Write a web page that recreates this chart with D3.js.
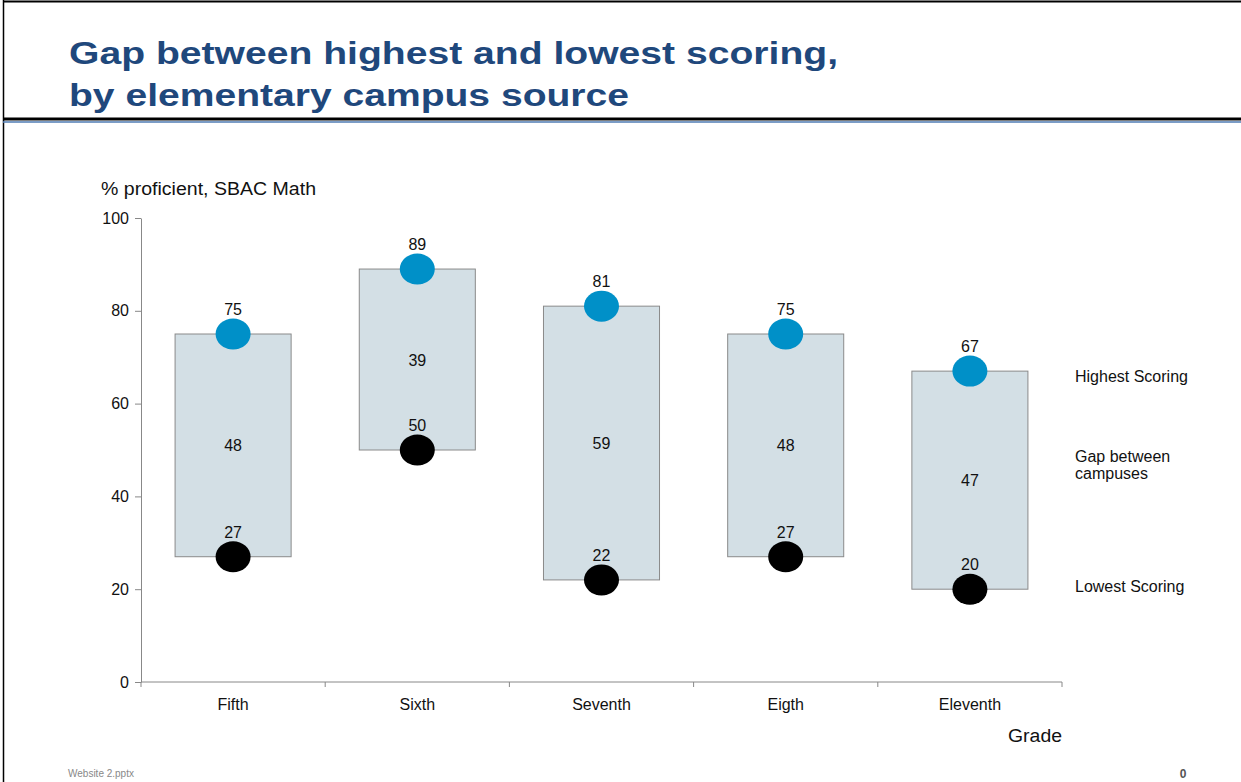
<!DOCTYPE html>
<html>
<head>
<meta charset="utf-8">
<script src="https://cdn.jsdelivr.net/npm/d3@7"></script>
<style>
  body { margin: 0; background: #fff; }
  text { font-family: "Liberation Sans", Arial, sans-serif; }
</style>
</head>
<body>
<div id="chart"></div>
<script>
// Grades and campus scores (% proficient, SBAC Math)
const grades = ["Fifth", "Sixth", "Seventh", "Eigth", "Eleventh"];
const highest = [75, 89, 81, 75, 67];
const lowest = [27, 50, 22, 27, 20];
const gaps = [48, 39, 59, 48, 47];
const yTicks = [0, 20, 40, 60, 80, 100];

const W = 1241, H = 782;
const margin = { top: 218, right: 179, bottom: 100, left: 141 },
    width = W - margin.left - margin.right,
    height = H - margin.top - margin.bottom;

const svg = d3.select("#chart").append("svg")
    .attr("width", W)
    .attr("height", H);

// slide frame
svg.append("line").attr("x1", 3).attr("x2", W).attr("y1", 1.5).attr("y2", 1.5)
    .attr("stroke", "#000").attr("stroke-width", 2);
svg.append("line").attr("x1", 3.5).attr("x2", 3.5).attr("y1", 0).attr("y2", H)
    .attr("stroke", "#000").attr("stroke-width", 1.5);
svg.append("line").attr("x1", 3).attr("x2", W).attr("y1", 119).attr("y2", 119)
    .attr("stroke", "#000").attr("stroke-width", 3);
svg.append("line").attr("x1", 3).attr("x2", W).attr("y1", 122).attr("y2", 122)
    .attr("stroke", "#4f7bb3").attr("stroke-width", 1.5);

// title (text in the slide is rendered wide)
const title = svg.append("g")
    .attr("fill", "#1f487c")
    .style("font-size", "32px")
    .style("font-weight", "bold");
title.append("text").attr("x", 69).attr("y", 64)
    .attr("textLength", 769).attr("lengthAdjust", "spacingAndGlyphs")
    .text("Gap between highest and lowest scoring,");
title.append("text").attr("x", 69).attr("y", 106)
    .attr("textLength", 560).attr("lengthAdjust", "spacingAndGlyphs")
    .text("by elementary campus source");

const g = svg.append("g")
    .attr("transform", "translate(" + margin.left + "," + margin.top + ")");

// scales
const x = d3.scaleBand()
    .domain(grades)
    .range([0, width])
    .padding(0);

const y = d3.scaleLinear()
    .domain([0, 100])
    .range([height, 0]);

const barW = x.bandwidth() * 0.63;

// y axis
const yAxis = g.append("g")
    .call(d3.axisLeft(y).tickValues(yTicks).tickSize(6).tickPadding(6).tickSizeOuter(0));
yAxis.select(".domain").attr("stroke", "#888");
yAxis.selectAll(".tick line").attr("stroke", "#888");
yAxis.selectAll(".tick text")
    .style("font-size", "16px")
    .style("font-family", "Liberation Sans, Arial, sans-serif")
    .attr("fill", "#111");

// x axis (ticks at band boundaries)
const xAxis = g.append("g")
    .attr("transform", "translate(0," + height + ")");
xAxis.append("line")
    .attr("x1", 0).attr("x2", width)
    .attr("stroke", "#888");
xAxis.selectAll(".xtick")
    .data(grades.concat(["end"]))
    .enter().append("line")
    .attr("x1", (d, i) => i < grades.length ? x(d) : width)
    .attr("x2", (d, i) => i < grades.length ? x(d) : width)
    .attr("y1", 0).attr("y2", 5)
    .attr("stroke", "#888");
xAxis.selectAll(".xlabel")
    .data(grades)
    .enter().append("text")
    .attr("x", d => x(d) + x.bandwidth() / 2)
    .attr("y", 28)
    .attr("text-anchor", "middle")
    .style("font-size", "16px")
    .attr("fill", "#111")
    .text(d => d);

// gap bars
g.selectAll(".bar")
    .data(grades)
    .enter().append("rect")
    .attr("x", d => x(d) + (x.bandwidth() - barW) / 2)
    .attr("y", (d, i) => y(highest[i]))
    .attr("width", barW)
    .attr("height", (d, i) => y(lowest[i]) - y(highest[i]))
    .attr("fill", "#d3dfe5")
    .attr("stroke", "#8a8a8a")
    .attr("stroke-width", 1);

// gap labels
g.selectAll(".gap")
    .data(grades)
    .enter().append("text")
    .attr("x", d => x(d) + x.bandwidth() / 2)
    .attr("y", (d, i) => y((highest[i] + lowest[i]) / 2) + 6)
    .attr("text-anchor", "middle")
    .style("font-size", "16px")
    .attr("fill", "#111")
    .text((d, i) => gaps[i]);

// highest / lowest dots with labels
[[highest, "#0090c8"], [lowest, "#000"]].forEach(([vals, color]) => {
    g.selectAll(null)
        .data(grades)
        .enter().append("ellipse")
        .attr("cx", d => x(d) + x.bandwidth() / 2)
        .attr("cy", (d, i) => y(vals[i]))
        .attr("rx", 17.5)
        .attr("ry", 15.5)
        .attr("fill", color);
    g.selectAll(null)
        .data(grades)
        .enter().append("text")
        .attr("x", d => x(d) + x.bandwidth() / 2)
        .attr("y", (d, i) => y(vals[i]) - 19)
        .attr("text-anchor", "middle")
        .style("font-size", "16px")
        .attr("fill", "#111")
        .text((d, i) => vals[i]);
});

// series labels on the right
const lx = 1075 - margin.left;
const last = grades.length - 1;
g.append("text")
    .attr("x", lx)
    .attr("y", y(highest[last]) + 11)
    .style("font-size", "16px").attr("fill", "#111")
    .text("Highest Scoring");
const gapLbl = g.append("text")
    .attr("x", lx)
    .style("font-size", "16px").attr("fill", "#111");
gapLbl.append("tspan").attr("x", lx).attr("y", y(43.5) - 18).text("Gap between");
gapLbl.append("tspan").attr("x", lx).attr("y", y(43.5) - 1).text("campuses");
g.append("text")
    .attr("x", lx)
    .attr("y", y(lowest[last]) + 3)
    .style("font-size", "16px").attr("fill", "#111")
    .text("Lowest Scoring");

// axis titles
svg.append("text")
    .attr("x", 101).attr("y", 195)
    .attr("textLength", 215).attr("lengthAdjust", "spacingAndGlyphs")
    .style("font-size", "17.5px").attr("fill", "#111")
    .text("% proficient, SBAC Math");
svg.append("text")
    .attr("x", 1008).attr("y", 742)
    .attr("textLength", 54).attr("lengthAdjust", "spacingAndGlyphs")
    .style("font-size", "18px").attr("fill", "#111")
    .text("Grade");

// footer
svg.append("text")
    .attr("x", 68).attr("y", 777)
    .style("font-size", "10px").attr("fill", "#888")
    .text("Website 2.pptx");
svg.append("text")
    .attr("x", 1183).attr("y", 778)
    .attr("text-anchor", "middle")
    .style("font-size", "12px").style("font-weight", "bold").attr("fill", "#555")
    .text("0");
</script>
</body>
</html>
